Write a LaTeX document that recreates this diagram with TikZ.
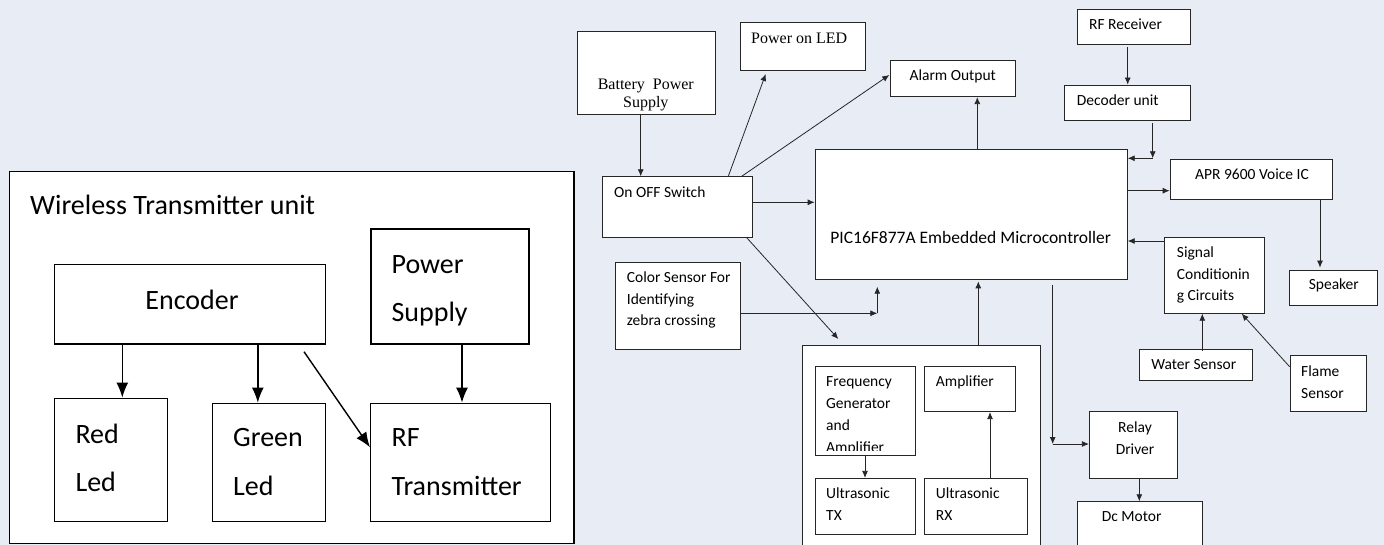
\documentclass[tikz,border=0pt]{standalone}
\usepackage{fontspec}
\setmainfont{Carlito}
\newfontfamily\serifrm{Liberation Serif}
\usetikzlibrary{fit,arrows.meta}
\definecolor{bgc}{RGB}{232,236,244}
\begin{document}
\begin{tikzpicture}[x=1pt,y=-1pt,
  lbox/.style={draw=black, line width=1.4pt, fill=white, inner sep=0pt},
  rbox/.style={draw=black!85, line width=0.8pt, fill=white, inner sep=0pt},
  larr/.style={-{Latex[length=15pt,width=12pt]}, line width=1.4pt},
  rarr/.style={-{Latex[length=7pt,width=6pt]}, line width=0.8pt, draw=black!85},
  lt/.style={font=\fontsize{28}{34}\selectfont, inner sep=0pt, anchor=base west},
  rt/.style={font=\fontsize{15.5}{20}\selectfont, inner sep=0pt, anchor=base west},
  rtc/.style={rt, anchor=base},
  sft/.style={font=\serifrm\fontsize{16}{20}\selectfont, inner sep=0pt, anchor=base west},
  sftc/.style={sft, anchor=base}]
\useasboundingbox (0,0) rectangle (1384,545);
\fill[bgc] (0,0) rectangle (1384,545);
\clip (0,0) rectangle (1384,545);

% ---------------- left panel ----------------
\node[lbox, fit={(9.4,171.7)(574,543.5)}] (wtu) {};
\node[lt] (wtut) at (30,215) {Wireless Transmitter unit};
\node[lbox, fit={(54.6,264.3)(325.6,344)}] (enc) {};
\node[lt, anchor=base] (enct) at (192,309) {Encoder};
\node[lbox, fit={(370.8,229)(528.8,344)}] (pws) {};
\node[lt] (pwst1) at (391.4,273.3) {Power};
\node[lt] (pwst2) at (391.4,321.7) {Supply};
\node[lbox, fit={(54.6,398.3)(167.5,521.7)}] (red) {};
\node[lt] (redt1) at (75.3,443.3) {Red};
\node[lt] (redt2) at (75.3,491.7) {Led};
\node[lbox, fit={(212.6,403.3)(325.6,521.7)}] (grn) {};
\node[lt] (grnt1) at (233,446.7) {Green};
\node[lt] (grnt2) at (233,495) {Led};
\node[lbox, fit={(370.7,403.3)(550.6,521.7)}] (rft) {};
\node[lt] (rftt1) at (391.4,446.7) {RF};
\node[lt] (rftt2) at (391.4,495) {Transmitter};

\coordinate (e1) at (122.3,0);
\coordinate (e2) at (257.8,0);
\coordinate (e3) at (462,0);
\coordinate (e4) at (304,351.7);
\coordinate (e4t) at (370.7,447.3);
\draw[larr] (e1 |- enc.south) -- (e1 |- red.north);
\draw[larr] (e2 |- enc.south) -- (e2 |- grn.north);
\draw[larr] (e3 |- pws.south) -- (e3 |- rft.north);
\draw[larr] (e4) -- (rft.west |- e4t);

% ---------------- right panel ----------------
\node[rbox, fit={(577.3,31.7)(715,114.3)}] (bat) {};
\node[sftc] (batt1) at (645.8,89.3) {Battery\ \ Power};
\node[sftc] (batt2) at (645.8,107.3) {Supply};
\node[rbox, fit={(740,22.3)(865,70)}] (led) {};
\node[sft] (ledt) at (751,43.3) {Power on LED};
\node[rbox, fit={(602.3,176.7)(752.7,237.3)}] (sw) {};
\node[rt] (swt) at (614,197.3) {On OFF Switch};
\node[rbox, fit={(890,60)(1015,96.7)}] (alarm) {};
\node[rtc] (alarmt) at (952.7,80.7) {Alarm Output};
\node[rbox, fit={(1077.3,9.3)(1190,44.3)}] (rfr) {};
\node[rt] (rfrt) at (1089,29.3) {RF Receiver};
\node[rbox, fit={(1064.7,85)(1190,120.7)}] (dec) {};
\node[rt] (dect) at (1076.7,105.3) {Decoder unit};
\node[rbox, fit={(815,149.3)(1127.3,279)}] (pic) {};
\node[rtc, font=\fontsize{17.5}{21}\selectfont] (pict) at (970.7,244) {PIC16F877A Embedded Microcontroller};
\node[rbox, fit={(1170,159)(1332.3,199)}] (apr) {};
\node[rtc] (aprt) at (1252,179.3) {APR 9600 Voice IC};
\node[rbox, fit={(1289.3,270)(1377.3,305)}] (spk) {};
\node[rtc] (spkt) at (1333.8,290) {Speaker};
\node[rbox, fit={(1164.3,237.3)(1264.7,313.3)}] (sig) {};
\node[rt] (sigt1) at (1176.7,257.3) {Signal};
\node[rt] (sigt2) at (1176.7,279.3) {Conditionin};
\node[rt] (sigt3) at (1176.7,300.7) {g Circuits};
\node[rbox, fit={(1139.3,349.3)(1252.3,380.7)}] (wat) {};
\node[rtc] (watt) at (1193.8,369.3) {Water Sensor};
\node[rbox, fit={(1290,355.7)(1366.7,411.7)}] (fl) {};
\node[rt] (flt1) at (1301,376) {Flame};
\node[rt] (flt2) at (1301,398.3) {Sensor};
\node[rbox, fit={(615,262.7)(740,349)}] (col) {};
\node[rt] (colt1) at (626.7,282.7) {Color Sensor For};
\node[rt] (colt2) at (626.7,304.3) {Identifying};
\node[rt] (colt3) at (626.7,326) {zebra crossing};
\node[rbox, fit={(802.7,345.7)(1040,560)}] (us) {};
\node[rbox, fit={(815,366)(915,455)}] (fg) {};
\node[rt] (fgt1) at (826,386.7) {Frequency};
\node[rt] (fgt2) at (826,408.3) {Generator};
\node[rt] (fgt3) at (826,430) {and};
\begin{scope}
  \clip (815,366) rectangle (915,450);
  \node[rt] (fgt4) at (826,452) {Amplifier};
\end{scope}
\node[rbox, fit={(924,366)(1015,411.7)}] (amp) {};
\node[rt] (ampt) at (935.7,386.7) {Amplifier};
\node[rbox, fit={(815,478.3)(915,534.3)}] (utx) {};
\node[rt] (utxt1) at (826,498.3) {Ultrasonic};
\node[rt] (utxt2) at (826,520.7) {TX};
\node[rbox, fit={(924,478.3)(1027.3,534.3)}] (urx) {};
\node[rt] (urxt1) at (935.7,498.3) {Ultrasonic};
\node[rt] (urxt2) at (935.7,520.7) {RX};
\node[rbox, fit={(1089.3,411.7)(1177.3,478.3)}] (rel) {};
\node[rtc] (relt1) at (1135,432.3) {Relay};
\node[rtc] (relt2) at (1135,454) {Driver};
\node[rbox, fit={(1077.3,501.7)(1202.3,560)}] (dcm) {};
\node[rtc] (dcmt) at (1131.7,521.7) {Dc Motor};

% connectors
\coordinate (c1) at (640.7,0);
\coordinate (c2) at (728.3,0);
\coordinate (tled) at (765.7,74);
\coordinate (c2b) at (741.7,0);
\coordinate (tal) at (889.3,75);
\coordinate (c3) at (0,202.3);
\coordinate (c4) at (746.7,0);
\coordinate (tus) at (838.3,339);
\coordinate (c5) at (977.3,0);
\coordinate (c6) at (1127.7,47.3);
\coordinate (c8) at (1152.7,158.3);
\coordinate (c8s) at (1152.7,123.3);
\coordinate (c9) at (0,190.7);
\coordinate (c10) at (1320,0);
\coordinate (c11) at (0,241);
\coordinate (c12) at (1202.3,0);
\coordinate (c13) at (0,366.7);
\coordinate (c14) at (1241.7,0);
\coordinate (c16) at (877.3,313.3);
\coordinate (c17) at (877.3,286.7);
\coordinate (c18) at (978.3,0);
\coordinate (c19) at (1052.7,285);
\coordinate (c20) at (1052.7,444);
\coordinate (c21) at (865,0);
\coordinate (c22) at (990,0);
\coordinate (c23) at (1139.3,0);

\draw[rarr] (c1 |- bat.south) -- (c1 |- sw.north);
\draw[rarr] (c2 |- sw.north) -- (tled);
\draw[rarr] (c2b |- sw.north) -- (tal);
\draw[rarr] (sw.east |- c3) -- (pic.west |- c3);
\draw[rarr] (c4 |- sw.south) -- (tus);
\draw[rarr] (c5 |- pic.north) -- (c5 |- alarm.south);
\draw[rarr] (c6) -- (c6 |- dec.north);
\draw[rarr] (c8s) -- (c8);
\draw[rarr] (c8) -- (pic.east |- c8);
\draw[rarr] (pic.east |- c9) -- (apr.west |- c9);
\draw[rarr] (c10 |- apr.south) -- ([yshift=2pt]c10 |- spk.north);
\draw[rarr] (sig.west |- c11) -- (pic.east |- c11);
\draw[rarr] ([yshift=-2pt]c12 |- wat.north) -- (c12 |- sig.south);
\draw[rarr] (fl.west |- c13) -- (c14 |- sig.south);
\draw[rarr] (col.east |- c16) -- (c16);
\draw[rarr] (c16) -- (c17);
\draw[rarr] (c18 |- us.north) -- ([yshift=-2pt]c18 |- pic.south);
\draw[rarr] (c19) -- (c20);
\draw[rarr] (c20) -- (rel.west |- c20);
\draw[rarr] (c21 |- fg.south) -- (c21 |- utx.north);
\draw[rarr] (c22 |- urx.north) -- (c22 |- amp.south);
\draw[rarr] (c23 |- rel.south) -- (c23 |- dcm.north);
\end{tikzpicture}
\end{document}
